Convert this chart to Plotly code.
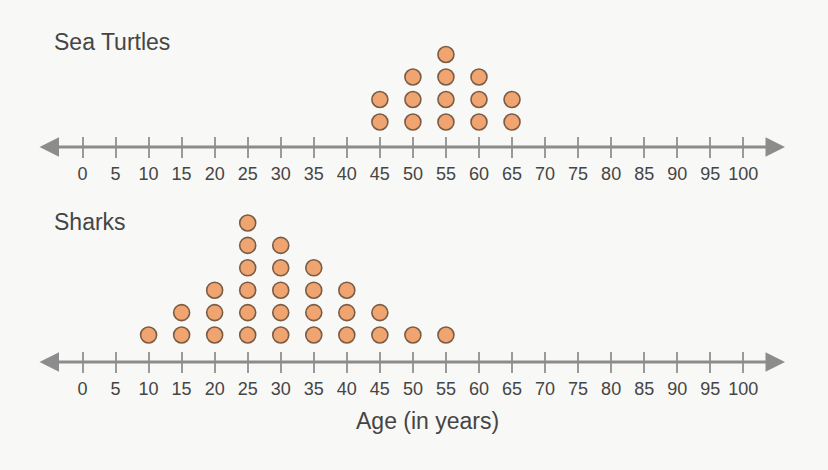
import plotly.graph_objects as go

ages = [0, 5, 10, 15, 20, 25, 30, 35, 40, 45, 50, 55, 60, 65, 70, 75, 80, 85, 90, 95, 100]
tick_labels = [str(a) for a in ages]

turtle_ages = [45, 50, 55, 60, 65]
turtle_counts = [2, 3, 4, 3, 2]

shark_ages = [10, 15, 20, 25, 30, 35, 40, 45, 50, 55]
shark_counts = [1, 2, 3, 6, 5, 4, 3, 2, 1, 1]

W, H = 828, 470
BG = "#f8f8f6"
DOT = "#F0A470"
DOT_EDGE = "#7a5c46"
AXIS = "#8c8c8c"
TEXT = "#454545"
FONT = "Liberation Sans, Arial, sans-serif"

# pixel geometry -> data ranges
px0, px100 = 82.5, 743.3
ppu = (px100 - px0) / 100.0
xr = [(0 - px0) / ppu, (W - px0) / ppu]


def stack(ages_, counts_):
    xs, ys = [], []
    for a, c in zip(ages_, counts_):
        for k in range(1, c + 1):
            xs.append(a)
            ys.append(k)
    return xs, ys


fig = go.Figure()

tx, ty = stack(turtle_ages, turtle_counts)
sx, sy = stack(shark_ages, shark_counts)

marker = dict(size=16, color=DOT, line=dict(color=DOT_EDGE, width=1.6))
fig.add_trace(go.Scatter(x=tx, y=ty, mode="markers", marker=marker, xaxis="x", yaxis="y",
                         hoverinfo="x+y", showlegend=False))
fig.add_trace(go.Scatter(x=sx, y=sy, mode="markers", marker=marker, xaxis="x2", yaxis="y2",
                         hoverinfo="x+y", showlegend=False))

# top panel geometry
top_axis_px, top_first_px, spacing_top = 147, 122, 22.5
top_dom_top_px = 30
y1_lo = 1 - (top_axis_px - top_first_px) / spacing_top
y1_hi = y1_lo + (top_axis_px - top_dom_top_px) / spacing_top
dom1 = [(H - top_axis_px) / H, (H - top_dom_top_px) / H]

bot_axis_px, bot_first_px, spacing_bot = 362, 335, 22.4
bot_dom_top_px = 205
y2_lo = 1 - (bot_axis_px - bot_first_px) / spacing_bot
y2_hi = y2_lo + (bot_axis_px - bot_dom_top_px) / spacing_bot
dom2 = [(H - bot_axis_px) / H, (H - bot_dom_top_px) / H]

xcommon = dict(range=xr, tickmode="array", tickvals=ages, ticktext=tick_labels,
               showgrid=False, zeroline=False, showline=False,
               ticks="outside", ticklen=10, tickwidth=1.5, tickcolor="#9a9a9a",
               tickfont=dict(family=FONT, size=18, color=TEXT),
               fixedrange=True)
xinside = dict(range=xr, tickmode="array", tickvals=ages, showticklabels=False,
               showgrid=False, zeroline=False, showline=False,
               ticks="inside", ticklen=10, tickwidth=1.5, tickcolor="#9a9a9a",
               fixedrange=True)
ycommon = dict(showgrid=False, zeroline=False, showline=False, showticklabels=False,
               ticks="", fixedrange=True)

fig.update_layout(
    width=W, height=H,
    margin=dict(l=0, r=0, t=0, b=0),
    paper_bgcolor=BG, plot_bgcolor=BG,
    xaxis=dict(**xcommon, anchor="y", domain=[0, 1]),
    xaxis3=dict(**xinside, anchor="y", overlaying="x", side="bottom"),
    yaxis=dict(**ycommon, range=[y1_lo, y1_hi], domain=dom1, anchor="x"),
    xaxis2=dict(**xcommon, anchor="y2", domain=[0, 1]),
    xaxis4=dict(**xinside, anchor="y2", overlaying="x2", side="bottom"),
    yaxis2=dict(**ycommon, range=[y2_lo, y2_hi], domain=dom2, anchor="x2"),
)

# dummy traces so overlay axes render
fig.add_trace(go.Scatter(x=[None], y=[None], xaxis="x3", yaxis="y", showlegend=False, hoverinfo="skip"))
fig.add_trace(go.Scatter(x=[None], y=[None], xaxis="x4", yaxis="y2", showlegend=False, hoverinfo="skip"))

left_tip = (38 - px0) / ppu
right_tip = (785 - px0) / ppu

for xa, ya, ylev in (("x", "y", y1_lo), ("x2", "y2", y2_lo)):
    fig.add_annotation(x=right_tip, y=ylev, ax=left_tip, ay=ylev, xref=xa, yref=ya,
                       axref=xa, ayref=ya, text="", showarrow=True,
                       arrowhead=2, arrowside="end+start", arrowsize=1.3,
                       arrowwidth=3, arrowcolor=AXIS)

fig.add_annotation(x=52 / W, y=1 - 42 / H, xref="paper", yref="paper", text="Sea Turtles",
                   showarrow=False, xanchor="left", yanchor="middle",
                   font=dict(family=FONT, size=23, color=TEXT))
fig.add_annotation(x=52 / W, y=1 - 222 / H, xref="paper", yref="paper", text="Sharks",
                   showarrow=False, xanchor="left", yanchor="middle",
                   font=dict(family=FONT, size=23, color=TEXT))
fig.add_annotation(x=428 / W, y=1 - 421 / H, xref="paper", yref="paper", text="Age (in years)",
                   showarrow=False, xanchor="center", yanchor="middle",
                   font=dict(family=FONT, size=23, color=TEXT))

fig.write_html("out.html", config={"displayModeBar": False},
               post_script="document.body.style.margin='0';document.body.style.overflow='hidden';"
                           "document.body.style.background='" + BG + "';")
